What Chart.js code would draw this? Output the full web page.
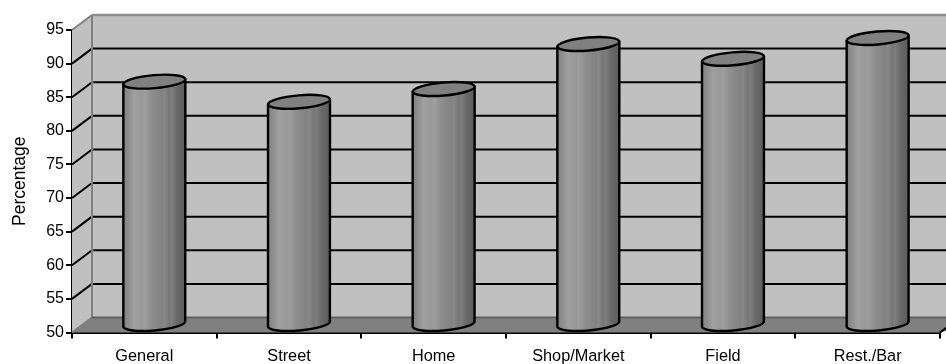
<!DOCTYPE html>
<html>
<head>
<meta charset="utf-8">
<style>
  html, body { margin: 0; padding: 0; background: #fff; overflow: hidden; }
  #wrap { position: absolute; left: 0; top: 0; width: 946px; height: 364px; }
</style>
<script src="https://cdn.jsdelivr.net/npm/chart.js@4"></script>
</head>
<body>
<div id="wrap"><canvas id="chart" width="946" height="364"></canvas></div>
<script>
const categories = ["General", "Street", "Home", "Shop/Market", "Field", "Rest./Bar"];
const percentages = [86.2, 83.2, 85.1, 91.8, 89.6, 92.7];
const axisMin = 50;
const axisMax = 95;
const axisStep = 5;
const axisTitle = "Percentage";

// Oblique projection of the box: depth of the walls, and where the columns stand in it.
const DEPTH_X = 20, DEPTH_Y = -15;
const COLUMN_DX = DEPTH_X / 2, COLUMN_DY = DEPTH_Y / 2;
const TILT = -0.085, CAP_RY = 6.5;
const FONT = "'Liberation Sans', Arial, sans-serif";

// Shading across a column, left edge to right edge.
const columnShade = [
  [0, "#808080"], [0.18, "#a0a0a0"], [0.3, "#989898"], [0.34, "#9e9e9e"], [0.45, "#8e8e8e"],
  [0.62, "#828282"], [0.66, "#888888"], [0.74, "#767676"], [0.78, "#7e7e7e"], [0.86, "#6a6a6a"], [1, "#5c5c5c"]
];

function line(ctx, x1, y1, x2, y2, color, width) {
  ctx.strokeStyle = color;
  ctx.lineWidth = width;
  ctx.beginPath();
  ctx.moveTo(x1, y1);
  ctx.lineTo(x2, y2);
  ctx.stroke();
}

function poly(ctx, pts, fill) {
  ctx.fillStyle = fill;
  ctx.beginPath();
  pts.forEach((p, i) => i ? ctx.lineTo(p[0], p[1]) : ctx.moveTo(p[0], p[1]));
  ctx.closePath();
  ctx.fill();
}

// Walls, floor and gridlines of the 3D box, behind the columns.
const boxPlugin = {
  id: "box",
  beforeDatasetsDraw(chart) {
    const { ctx, chartArea: a, scales: { y } } = chart;
    const dx = DEPTH_X, dy = DEPTH_Y;
    const R = a.right + 60;
    ctx.save();
    poly(ctx, [[a.left + dx, a.top + dy], [R, a.top + dy], [R, a.bottom + dy], [a.left + dx, a.bottom + dy]], "#c0c0c0");
    poly(ctx, [[a.left, a.top], [a.left + dx, a.top + dy], [a.left + dx, a.bottom + dy], [a.left, a.bottom]], "#c0c0c0");
    poly(ctx, [[a.left, a.bottom], [a.left + dx, a.bottom + dy], [R, a.bottom + dy], [a.right, a.bottom]], "#808080");

    y.ticks.forEach(t => {
      const py = y.getPixelForValue(t.value);
      if (t.value === axisMin || t.value === axisMax) return;
      line(ctx, a.left, py, a.left + dx, py + dy, "#000", 2);
      line(ctx, a.left + dx, py + dy, R, py + dy, "#000", 2);
    });
    // Wall edges
    line(ctx, a.left, a.top, a.left + dx, a.top + dy, "#808080", 2);
    line(ctx, a.left + dx, a.top + dy, R, a.top + dy, "#8c8c8c", 2.5);
    line(ctx, a.left + dx, a.top + dy, a.left + dx, a.bottom + dy, "#808080", 2);
    line(ctx, a.left, a.bottom, a.left + dx, a.bottom + dy, "#808080", 2);
    line(ctx, a.left + dx, a.bottom + dy, R, a.bottom + dy, "#606060", 2);
    line(ctx, a.right, a.bottom, a.right + dx, a.bottom + dy, "#000", 2);
    ctx.restore();
  },
  // Cylinders take their position and size from the bar elements.
  afterDatasetsDraw(chart) {
    const { ctx } = chart;
    chart.getDatasetMeta(0).data.forEach(bar => {
      const p = bar.getProps(["x", "y", "base", "width"], true);
      const cx = p.x + COLUMN_DX, rx = p.width / 2;
      const top = p.y + COLUMN_DY, base = p.base + COLUMN_DY;
      const slant = Math.sin(TILT) * rx;

      const g = ctx.createLinearGradient(cx - rx, 0, cx + rx, 0);
      columnShade.forEach(([at, color]) => g.addColorStop(at, color));

      ctx.save();
      ctx.beginPath();
      ctx.moveTo(cx - rx, top - slant);
      ctx.lineTo(cx - rx, base - slant);
      ctx.ellipse(cx, base, rx, CAP_RY, TILT, Math.PI, 0, true);
      ctx.lineTo(cx + rx, top + slant);
      ctx.closePath();
      ctx.fillStyle = g;
      ctx.fill();
      ctx.lineWidth = 2.4;
      ctx.lineJoin = "round";
      ctx.strokeStyle = "#000";
      ctx.stroke();

      ctx.beginPath();
      ctx.ellipse(cx, top, rx, CAP_RY, TILT, 0, Math.PI * 2);
      ctx.fillStyle = "#808080";
      ctx.fill();
      ctx.stroke();
      ctx.restore();
    });
  }
};

new Chart(document.getElementById("chart"), {
  type: "bar",
  plugins: [boxPlugin],
  data: {
    labels: categories,
    datasets: [{
      data: percentages,
      base: axisMin,
      backgroundColor: "rgba(0,0,0,0)",
      borderWidth: 0,
      barThickness: 62
    }]
  },
  options: {
    responsive: false,
    animation: false,
    layout: { padding: { left: 0, right: 6, top: 30, bottom: 0 } },
    plugins: { legend: { display: false }, tooltip: { enabled: false } },
    scales: {
      x: {
        position: "bottom",
        grid: { display: true, drawOnChartArea: false, drawTicks: true, tickLength: 6, color: "#000", lineWidth: 2, offset: true },
        border: { display: true, color: "#000", width: 2 },
        ticks: { color: "#000", font: { family: FONT, size: 16.3 }, padding: 8, maxRotation: 0, autoSkip: false },
        afterFit(s) { s.height = 31.5; }
      },
      y: {
        min: axisMin,
        max: axisMax,
        grid: { display: true, drawOnChartArea: false, drawTicks: true, tickLength: 6, color: "#000", lineWidth: 2 },
        border: { display: true, color: "#000", width: 2 },
        ticks: { stepSize: axisStep, color: "#000", font: { family: FONT, size: 16 }, padding: 2 },
        title: { display: true, text: axisTitle, color: "#000", font: { family: FONT, size: 17.5 }, padding: { top: 10, bottom: 0 } },
        afterFit(s) { s.width = 72; }
      }
    }
  }
});
</script>
</body>
</html>
